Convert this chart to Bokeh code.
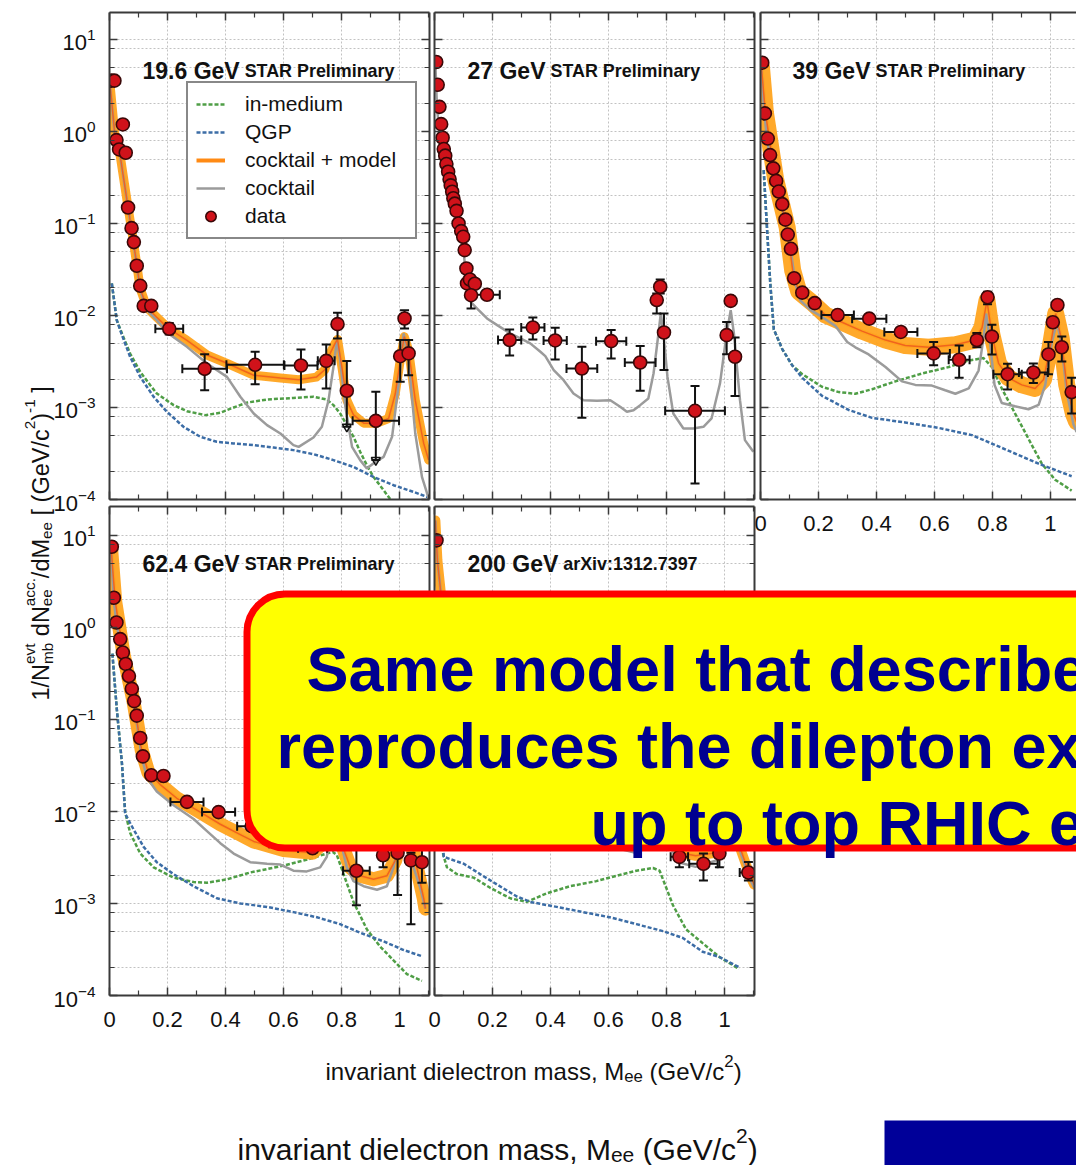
import math
from bokeh.plotting import figure
from bokeh.models import (Range1d, FixedTicker, LogAxis, LinearAxis, Grid, Legend, LegendItem,
                          BoxAnnotation, LogTickFormatter, CustomJSTickFormatter)
from bokeh.embed import file_html
from bokeh.resources import INLINE
from bokeh.core.properties import value

W, H = 1076, 1165

# ---------------- ticks ----------------
X_MAJOR = [0, 0.2, 0.4, 0.6, 0.8, 1.0]
X_MINOR = [0.1, 0.3, 0.5, 0.7, 0.9, 1.1]
Y_MAJOR = [1e-4, 1e-3, 1e-2, 1e-1, 1, 10]
Y_MINOR = [2e-4, 5e-4, 8e-4, 2e-3, 5e-3, 8e-3, 2e-2, 5e-2, 8e-2, 0.2, 0.5, 0.8, 2, 5, 8]

LEGEND_LABELS = ["in-medium", "QGP", "cocktail + model", "cocktail", "data"]
TITLES_MAIN = ["19.6 GeV", "27 GeV", "39 GeV", "62.4 GeV", "200 GeV"]
TITLES_SUB = ["STAR Preliminary", "STAR Preliminary", "STAR Preliminary", "STAR Preliminary", "arXiv:1312.7397"]

# ---------------- 19.6 GeV ----------------
P1_M = [0.006, 0.017, 0.024, 0.033, 0.046, 0.056, 0.064, 0.076, 0.084, 0.094, 0.106, 0.118, 0.144,
        0.206, 0.328, 0.502, 0.660, 0.747, 0.786, 0.818, 0.918, 1.002, 1.017, 1.031]
P1_V = [3.56, 3.56, 0.805, 0.637, 1.19, 0.586, 0.149, 0.0889, 0.0627, 0.0347, 0.0210, 0.0127, 0.0127,
        0.00716, 0.00263, 0.00291, 0.00286, 0.00321, 0.00805, 0.00152, 0.000716, 0.00361, 0.00927, 0.00387]
P1_DX = [0, 0, 0, 0, 0, 0, 0, 0, 0, 0, 0, 0, 0,
         0.048, 0.077, 0.099, 0.057, 0.029, 0, 0, 0.08, 0, 0, 0]
P1_LO = [None] * 13 + [0.0062, 0.00154, 0.00179, 0.00157, 0.00161, 0.00562, 0.000617, 0.000268, 0.00190, 0.00723, 0.00224]
P1_HI = [None] * 13 + [0.0083, 0.00380, 0.00403, 0.00427, 0.00484, 0.0107, 0.00319, 0.00148, 0.00540, 0.0114, 0.00540]
P1_LIMIT = [False] * 19 + [True, True, False, False, False]

P1_COCKTAIL_M = [0.002, 0.020, 0.037, 0.060, 0.083, 0.106, 0.129, 0.163, 0.203, 0.267, 0.336, 0.405, 0.451,
                 0.497, 0.543, 0.589, 0.634, 0.652, 0.703, 0.732, 0.755, 0.772, 0.784, 0.795, 0.813, 0.836,
                 0.864, 0.887, 0.916, 0.945, 0.974, 0.997, 1.014, 1.031, 1.054, 1.077, 1.100]
P1_COCKTAIL_V = [3.06, 0.805, 0.531, 0.179, 0.0607, 0.0188, 0.0114, 0.00889, 0.00637, 0.00456, 0.00301,
                 0.00215, 0.00131, 0.000861, 0.000643, 0.000521, 0.000390, 0.000373, 0.000472, 0.000617,
                 0.00120, 0.00277, 0.00540, 0.00327, 0.00102, 0.000373, 0.000268, 0.000217, 0.000256,
                 0.000291, 0.000480, 0.00182, 0.00637, 0.00327, 0.000521, 0.000176, 0.000103]
P1_MODEL_M = [0.002, 0.020, 0.037, 0.060, 0.083, 0.106, 0.129, 0.163, 0.203, 0.267, 0.336, 0.405, 0.497,
              0.589, 0.652, 0.713, 0.742, 0.761, 0.778, 0.786, 0.801, 0.818, 0.841, 0.876, 0.922, 0.962,
              0.985, 1.002, 1.016, 1.031, 1.054, 1.083, 1.100]
P1_MODEL_V = [3.2, 0.82, 0.54, 0.18, 0.062, 0.0195, 0.0122, 0.00955, 0.00724, 0.00537, 0.00372, 0.00302,
              0.00224, 0.00209, 0.00200, 0.00214, 0.00257, 0.00389, 0.00501, 0.00550, 0.00275, 0.00120,
              0.000832, 0.000676, 0.000676, 0.000759, 0.00141, 0.00324, 0.00589, 0.00417, 0.00120,
              0.000407, 0.000269]
P1_INMED_M = [0.008, 0.025, 0.043, 0.071, 0.106, 0.140, 0.163, 0.221, 0.267, 0.330, 0.382, 0.428, 0.474,
              0.543, 0.634, 0.703, 0.749, 0.772, 0.795, 0.818, 0.841, 0.864, 0.887, 0.910, 0.945, 0.979]
P1_INMED_V = [0.0223, 0.00889, 0.00637, 0.00386, 0.00244, 0.00175, 0.00142, 0.00106, 0.000912, 0.000826,
              0.000875, 0.00100, 0.00113, 0.00122, 0.00127, 0.00131, 0.00122, 0.00106, 0.000861, 0.000643,
              0.000480, 0.000330, 0.000236, 0.000176, 0.000126, 0.0000906]
P1_QGP_M = [0.008, 0.025, 0.043, 0.071, 0.106, 0.152, 0.198, 0.255, 0.313, 0.370, 0.428, 0.497, 0.566,
            0.634, 0.703, 0.772, 0.841, 0.910, 0.979, 1.048, 1.100]
P1_QGP_V = [0.0223, 0.00889, 0.00611, 0.00356, 0.00215, 0.00131, 0.000897, 0.000617, 0.000480, 0.000424,
            0.000406, 0.000390, 0.000367, 0.000344, 0.000311, 0.000268, 0.000226, 0.000176, 0.000143,
            0.000121, 0.000105]

# ---------------- 27 GeV ----------------
P2_M = [0.006, 0.011, 0.017, 0.023, 0.028, 0.032, 0.037, 0.041, 0.047, 0.052, 0.056, 0.061, 0.065, 0.070,
        0.076, 0.083, 0.092, 0.099, 0.104, 0.110, 0.112, 0.122, 0.139, 0.126, 0.181, 0.259, 0.339, 0.416,
        0.508, 0.609, 0.709, 0.766, 0.778, 0.791, 0.898, 1.007, 1.021, 1.036]
P2_V = [5.68, 3.21, 1.85, 1.20, 0.853, 0.643, 0.545, 0.442, 0.365, 0.303, 0.259, 0.221, 0.188, 0.164,
        0.137, 0.100, 0.0826, 0.0716, 0.0513, 0.0324, 0.0223, 0.0246, 0.0221, 0.0166, 0.0168, 0.00540,
        0.00741, 0.00535, 0.00265, 0.00526, 0.00308, 0.0147, 0.0205, 0.00653, 0.000920, 0.00611, 0.0144, 0.00356]
P2_DX = [0] * 24 + [0.044, 0.04, 0.04, 0.04, 0.053, 0.052, 0.053, 0, 0, 0, 0.103, 0, 0, 0]
P2_LO = [None] * 23 + [0.0119, None, 0.00367, 0.00548, 0.00333, 0.000773, 0.00341, 0.00152, 0.0105,
                       0.0173, 0.00255, 0.000149, 0.00380, 0.0129, 0.00133]
P2_HI = [None] * 23 + [0.0252, None, 0.00705, 0.00951, 0.00735, 0.00456, 0.00693, 0.00465, 0.0173,
                       0.0246, 0.0105, 0.00171, 0.00847, 0.0162, 0.00577]
P2_COCKTAIL_M = [0.003, 0.009, 0.021, 0.055, 0.084, 0.101, 0.112, 0.124, 0.147, 0.181, 0.216, 0.261, 0.296,
                 0.330, 0.365, 0.382, 0.411, 0.445, 0.479, 0.514, 0.560, 0.606, 0.640, 0.663, 0.686, 0.709,
                 0.737, 0.755, 0.772, 0.780, 0.789, 0.803, 0.823, 0.858, 0.892, 0.927, 0.955, 0.984, 1.007,
                 1.021, 1.032, 1.053, 1.070, 1.099]
P2_COCKTAIL_V = [5.48, 1.71, 0.805, 0.251, 0.0920, 0.0472, 0.0205, 0.0141, 0.0119, 0.00927, 0.00785,
                 0.00637, 0.00562, 0.00497, 0.00403, 0.00361, 0.00255, 0.00198, 0.00142, 0.00120, 0.00118,
                 0.00120, 0.00102, 0.000897, 0.000935, 0.00106, 0.00125, 0.00234, 0.00637, 0.0105, 0.00637,
                 0.00215, 0.000861, 0.000592, 0.000592, 0.000617, 0.000759, 0.00182, 0.00637, 0.0114,
                 0.00637, 0.00120, 0.000442, 0.000330]

# ---------------- 39 GeV ----------------
P3_M = [0.006, 0.015, 0.025, 0.033, 0.044, 0.054, 0.063, 0.075, 0.086, 0.094, 0.105, 0.116, 0.144, 0.187,
        0.266, 0.375, 0.484, 0.597, 0.685, 0.746, 0.783, 0.798, 0.852, 0.941, 0.993, 1.008, 1.024, 1.039, 1.073]
P3_V = [5.58, 1.57, 0.836, 0.553, 0.397, 0.290, 0.222, 0.162, 0.110, 0.0757, 0.0530, 0.0254, 0.0177,
        0.0136, 0.0101, 0.00923, 0.00662, 0.00387, 0.00330, 0.00540, 0.0158, 0.00589, 0.00230, 0.00240,
        0.00377, 0.00843, 0.0130, 0.00451, 0.00147]
P3_DX = [0] * 14 + [0.056, 0.059, 0.057, 0.056, 0.036, 0, 0, 0, 0.049, 0.05, 0, 0, 0, 0, 0]
P3_LO = [None] * 17 + [0.00288, 0.00210, 0.00451, 0.0132, 0.00377, 0.00157, 0.00184, 0.00230, None, None, 0.00315, 0.000859]
P3_HI = [None] * 17 + [0.00515, 0.00471, 0.00644, 0.0181, 0.00793, 0.00299, 0.00301, 0.00515, None, None, 0.00589, 0.00210]
P3_COCKTAIL_M = [0.003, 0.011, 0.023, 0.052, 0.086, 0.107, 0.121, 0.138, 0.172, 0.212, 0.258, 0.299, 0.327,
                 0.373, 0.431, 0.488, 0.534, 0.591, 0.637, 0.672, 0.718, 0.752, 0.769, 0.778, 0.790, 0.807,
                 0.832, 0.878, 0.924, 0.959, 0.982, 1.005, 1.022, 1.037, 1.056, 1.079, 1.090]
P3_COCKTAIL_V = [4.67, 1.91, 0.778, 0.290, 0.108, 0.0443, 0.0216, 0.0145, 0.0115, 0.00964, 0.00771,
                 0.00515, 0.00451, 0.00377, 0.00275, 0.00192, 0.00176, 0.00173, 0.00154, 0.00141, 0.00161,
                 0.00252, 0.00564, 0.0105, 0.00564, 0.00176, 0.00112, 0.00103, 0.000957, 0.00107, 0.00176,
                 0.00515, 0.00843, 0.00515, 0.00147, 0.000656, 0.000540]
P3_MODEL_M = [0.003, 0.017, 0.052, 0.092, 0.111, 0.132, 0.178, 0.224, 0.281, 0.350, 0.431, 0.499, 0.580,
              0.672, 0.741, 0.764, 0.781, 0.798, 0.821, 0.855, 0.901, 0.947, 0.976, 0.999, 1.018, 1.037,
              1.056, 1.079, 1.090]
P3_MODEL_V = [5.11, 1.59, 0.303, 0.0906, 0.0309, 0.0181, 0.0138, 0.0101, 0.00843, 0.00675, 0.00540,
              0.00471, 0.00451, 0.00480, 0.00540, 0.00738, 0.0145, 0.00617, 0.00301, 0.00210, 0.00176,
              0.00161, 0.00201, 0.00451, 0.0105, 0.00564, 0.00176, 0.000859, 0.000700]
P3_INMED_M = [0.011, 0.023, 0.034, 0.046, 0.075, 0.109, 0.144, 0.212, 0.270, 0.327, 0.385, 0.465, 0.557,
              0.649, 0.718, 0.769, 0.798, 0.832, 0.878, 0.924, 0.970, 1.016, 1.073]
P3_INMED_V = [0.380, 0.0828, 0.0216, 0.00705, 0.00431, 0.00288, 0.00230, 0.00168, 0.00147, 0.00141,
              0.00158, 0.00192, 0.00234, 0.00275, 0.00324, 0.00344, 0.00275, 0.00161, 0.000859, 0.000458,
              0.000245, 0.000164, 0.000125]
P3_QGP_M = [0.011, 0.023, 0.034, 0.046, 0.075, 0.109, 0.144, 0.212, 0.304, 0.385, 0.499, 0.614, 0.729,
            0.844, 0.959, 1.073]
P3_QGP_V = [0.380, 0.0828, 0.0216, 0.00705, 0.00431, 0.00288, 0.00210, 0.00134, 0.000940, 0.000771,
            0.000687, 0.000600, 0.000501, 0.000351, 0.000245, 0.000179]

# ---------------- 62.4 GeV ----------------
P4_M = [0.008, 0.015, 0.024, 0.037, 0.046, 0.056, 0.067, 0.077, 0.085, 0.094, 0.106, 0.115, 0.144, 0.186,
        0.267, 0.376, 0.490, 0.600, 0.700, 0.780, 0.851, 0.943, 0.993, 1.018, 1.039, 1.077]
P4_V = [7.52, 2.10, 1.13, 0.746, 0.533, 0.401, 0.296, 0.215, 0.158, 0.110, 0.0628, 0.0397, 0.0247, 0.0243,
        0.0127, 0.00984, 0.00692, 0.00447, 0.00398, 0.0112, 0.00227, 0.00334, 0.00355, 0.0100, 0.00294, 0.00281]
P4_DX = [0] * 14 + [0.057, 0.057, 0.05, 0.05, 0.05, 0, 0.046, 0, 0, 0, 0, 0]
P4_LO = [None] * 20 + [0.000957, 0.00247, 0.00124, None, 0.000596, 0.00168]
P4_HI = [None] * 20 + [0.00415, 0.00447, 0.00501, None, 0.00355, 0.00398]
P4_COCKTAIL_M = [0.006, 0.014, 0.025, 0.048, 0.071, 0.094, 0.111, 0.129, 0.163, 0.221, 0.290, 0.336, 0.382,
                 0.428, 0.485, 0.543, 0.589, 0.634, 0.680, 0.726, 0.749, 0.765, 0.780, 0.795, 0.818, 0.841,
                 0.876, 0.922, 0.956, 0.979, 1.000, 1.018, 1.035, 1.048, 1.071, 1.089]
P4_COCKTAIL_V = [6.32, 2.07, 1.04, 0.476, 0.219, 0.0925, 0.0391, 0.0233, 0.0165, 0.0117, 0.00828, 0.00612,
                 0.00452, 0.00349, 0.00281, 0.00270, 0.00265, 0.00227, 0.00223, 0.00247, 0.00321, 0.00631,
                 0.0112, 0.00501, 0.00247, 0.00175, 0.00154, 0.00141, 0.00154, 0.00247, 0.00501, 0.0100,
                 0.00501, 0.00247, 0.00148, 0.000879]
P4_MODEL_M = [0.006, 0.020, 0.048, 0.083, 0.111, 0.134, 0.175, 0.232, 0.313, 0.382, 0.451, 0.497, 0.600,
              0.700, 0.765, 0.780, 0.800, 0.830, 0.864, 0.910, 0.956, 0.985, 1.018, 1.054, 1.083, 1.089]
P4_MODEL_V = [6.90, 1.89, 0.519, 0.155, 0.0465, 0.0265, 0.0196, 0.0139, 0.00984, 0.00726, 0.00561,
              0.00472, 0.00380, 0.00355, 0.00562, 0.0112, 0.00447, 0.00247, 0.00200, 0.00183, 0.00200,
              0.00294, 0.0100, 0.00294, 0.00114, 0.000879]
P4_INMED_M = [0.010, 0.025, 0.043, 0.054, 0.071, 0.106, 0.152, 0.221, 0.290, 0.336, 0.405, 0.485, 0.600,
              0.692, 0.749, 0.770, 0.784, 0.807, 0.841, 0.887, 0.933, 0.979, 1.025, 1.077]
P4_INMED_V = [0.519, 0.131, 0.0329, 0.00984, 0.00586, 0.00349, 0.00247, 0.00191, 0.00171, 0.00168,
              0.00183, 0.00217, 0.00258, 0.00307, 0.00349, 0.00363, 0.00334, 0.00208, 0.00104, 0.000524,
              0.000340, 0.000241, 0.000171, 0.000144]
P4_QGP_M = [0.010, 0.025, 0.043, 0.054, 0.083, 0.117, 0.163, 0.221, 0.290, 0.370, 0.451, 0.543, 0.634,
            0.715, 0.795, 0.864, 0.945, 1.014, 1.077]
P4_QGP_V = [0.519, 0.131, 0.0329, 0.00942, 0.00638, 0.00415, 0.00281, 0.00208, 0.00154, 0.00114, 0.00100,
            0.000918, 0.000805, 0.000708, 0.000596, 0.000481, 0.000387, 0.000312, 0.000267]

# ---------------- 200 GeV ----------------
P5_M = [0.007, 0.844, 0.927, 0.982, 1.082]
P5_V = [8.83, 0.00321, 0.00270, 0.00349, 0.00217]
P5_DX = [0, 0.03, 0.049, 0, 0.03]
P5_LO = [None, 0.00247, 0.00178, 0.00247, 0.00178]
P5_HI = [None, 0.00420, 0.00349, 0.00501, 0.00282]
P5_COCKTAIL_M = [0.003, 0.010, 0.021, 0.05, 0.10, 0.15, 0.30, 0.50, 0.70, 0.76, 0.78, 0.80, 0.84, 0.90,
                 0.98, 1.005, 1.02, 1.035, 1.056, 1.085, 1.102]
P5_COCKTAIL_V = [14.5, 5.35, 2.51, 0.40, 0.05, 0.02, 0.009, 0.005, 0.0035, 0.005, 0.012, 0.005, 0.0028,
                 0.0025, 0.003, 0.006, 0.011, 0.006, 0.00349, 0.00191, 0.00148]
P5_MODEL_V = [14.5, 5.35, 2.51, 0.42, 0.055, 0.024, 0.011, 0.0065, 0.0048, 0.006, 0.013, 0.0065, 0.0036,
              0.0033, 0.0036, 0.0065, 0.0115, 0.0065, 0.0038, 0.0021, 0.0016]
P5_INMED_M = [0.010, 0.020, 0.030, 0.043, 0.078, 0.135, 0.192, 0.261, 0.318, 0.387, 0.467, 0.558, 0.627,
              0.696, 0.753, 0.776, 0.822, 0.867, 0.924, 0.982, 1.050]
P5_INMED_V = [0.5, 0.01, 0.00339, 0.00247, 0.00208, 0.00191, 0.00148, 0.00114, 0.00104, 0.00129, 0.00154,
              0.00175, 0.00200, 0.00227, 0.00243, 0.00227, 0.000957, 0.000524, 0.000371, 0.000262, 0.000194]
P5_QGP_M = [0.010, 0.020, 0.032, 0.101, 0.158, 0.215, 0.284, 0.330, 0.421, 0.513, 0.604, 0.696, 0.787,
            0.856, 0.924, 0.982, 1.050]
P5_QGP_V = [0.5, 0.01, 0.00321, 0.00270, 0.00208, 0.00161, 0.00119, 0.00104, 0.000918, 0.000805, 0.000708,
            0.000596, 0.000501, 0.000422, 0.000299, 0.000262, 0.000203]

# ---------------- styles ----------------
C_INMED = "#4f9e46"
C_QGP = "#3c6da6"
C_BAND = "#ffa41f"
C_MODEL = "#f0641e"
C_MODEL_KEY = "#ff8a14"
C_COCKTAIL = "#9b9b9b"
C_DATA = "#d0121a"
C_DATA_EDGE = "#3a0808"
C_ERR = "#111111"
C_AXIS = "#3a3a3a"
C_GRID = "#c2c2c2"
C_TEXT = "#111111"
C_NAVY = "#000090"
FONT = "Liberation Sans"
STACK = {"position": "absolute", "left": "0px", "top": "0px"}

AR = {' ': 278, '(': 333, ')': 333, ',': 278, '-': 333, '.': 278, '/': 278, ':': 278, '[': 278, ']': 278,
      '+': 584, 'A': 667, 'G': 778, 'M': 833, 'N': 722, 'V': 667, 'X': 667,
      'a': 556, 'b': 556, 'c': 500, 'd': 556, 'e': 556, 'g': 556, 'h': 556, 'i': 222, 'k': 500, 'l': 222,
      'm': 833, 'n': 556, 'o': 556, 'p': 556, 'r': 333, 's': 500, 't': 278, 'u': 556, 'v': 500, 'x': 500, 'y': 500}
ARB = {' ': 278, '.': 278, ':': 333, 'G': 778, 'V': 667, 'e': 556, 'S': 667, 'T': 611, 'A': 722, 'R': 722,
       'P': 667, 'r': 389, 'l': 278, 'i': 278, 'm': 889, 'n': 611, 'a': 556, 'y': 556, 'X': 667, 'v': 556}


def text_w(s, bold=False):
    tbl = ARB if bold else AR
    return sum(tbl.get(c, 556) for c in s) / 1000.0


def style_axis(ax, show, standoff):
    ax.axis_line_color = C_AXIS
    ax.axis_line_width = 2
    ax.major_tick_in = 8
    ax.major_tick_out = 0
    ax.minor_tick_in = 5
    ax.minor_tick_out = 0
    ax.major_tick_line_color = C_AXIS
    ax.major_tick_line_width = 1.5
    ax.minor_tick_line_color = C_AXIS
    ax.minor_tick_line_width = 1.2
    if show:
        ax.major_label_text_font = FONT
        ax.major_label_text_font_size = "22px"
        ax.major_label_text_color = C_TEXT
        ax.major_label_standoff = standoff
    else:
        ax.major_label_text_font_size = "2px"
        ax.major_label_text_color = None
        ax.major_label_standoff = 0


def make_panel(fl, ft, fw, fh, xmax, ymax, left_labels=False, bottom_labels=False, right_axis=True):
    p = figure(width=W, height=H, output_backend="svg", toolbar_location=None,
               x_range=Range1d(0, xmax), y_range=Range1d(1e-4, ymax), y_axis_type="log",
               x_axis_location=None, y_axis_location=None,
               min_border_left=fl, min_border_top=ft, min_border_right=W - fl - fw,
               min_border_bottom=H - ft - fh,
               background_fill_color="white", border_fill_color=None, outline_line_color=None,
               styles=STACK)
    p.title.visible = False
    p.center = []
    xt = FixedTicker(ticks=X_MAJOR, minor_ticks=X_MINOR)
    yt = FixedTicker(ticks=Y_MAJOR, minor_ticks=Y_MINOR)
    p.add_layout(Grid(dimension=0, ticker=xt, grid_line_color=C_GRID, grid_line_dash="2 2"), "center")
    p.add_layout(Grid(dimension=1, ticker=yt, grid_line_color=C_GRID, grid_line_dash="2 2",
                      minor_grid_line_color=C_GRID, minor_grid_line_dash="2 2"), "center")
    sides = ["left", "right"] if right_axis else ["left"]
    for side in sides:
        ax = LogAxis(ticker=yt, formatter=LogTickFormatter())
        style_axis(ax, left_labels and side == "left", 14)
        p.add_layout(ax, side)
    for side in ["below", "above"]:
        ax = LinearAxis(ticker=xt, formatter=CustomJSTickFormatter(
            code="return tick.toFixed(1).replace(/\\.0$/, '');"))
        style_axis(ax, bottom_labels and side == "below", 16)
        p.add_layout(ax, side)
    return p


def draw_curves(p, inmed=None, qgp=None, model=None, cocktail=None, band_w=9):
    r = {}
    if inmed:
        r["inmed"] = p.line(inmed[0], inmed[1], line_color=C_INMED, line_width=2.5, line_dash="4 2")
    if qgp:
        r["qgp"] = p.line(qgp[0], qgp[1], line_color=C_QGP, line_width=2.5, line_dash="4 2")
    if model:
        # narrower copy (hidden under the band) that serves as the legend key
        r["model"] = p.line(model[0], model[1], line_color=C_MODEL_KEY, line_width=4)
        p.line(model[0], model[1], line_color=C_BAND, line_width=band_w, line_join="round",
               line_cap="round", line_alpha=0.95)
    if cocktail:
        r["cocktail"] = p.line(cocktail[0], cocktail[1], line_color=C_COCKTAIL, line_width=2.5)
    if model:
        p.line(model[0], model[1], line_color=C_MODEL, line_width=1.5)
    return r


def draw_points(p, M, V, DX, LO, HI, LIMIT=None):
    iv = [i for i in range(len(M)) if LO[i] is not None]
    if iv:
        p.segment(x0=[M[i] for i in iv], y0=[LO[i] for i in iv], x1=[M[i] for i in iv],
                  y1=[HI[i] for i in iv], line_color=C_ERR, line_width=2)
        p.scatter(x=[M[i] for i in iv] * 2, y=[LO[i] for i in iv] + [HI[i] for i in iv],
                  marker="dash", size=9, line_color=C_ERR, line_width=2)
    ih = [i for i in range(len(M)) if DX[i] > 0]
    if ih:
        p.segment(x0=[M[i] - DX[i] for i in ih], y0=[V[i] for i in ih], x1=[M[i] + DX[i] for i in ih],
                  y1=[V[i] for i in ih], line_color=C_ERR, line_width=2)
        p.scatter(x=[M[i] - DX[i] for i in ih] + [M[i] + DX[i] for i in ih],
                  y=[V[i] for i in ih] * 2, marker="dash", angle=math.pi / 2, size=9,
                  line_color=C_ERR, line_width=2)
    if LIMIT:
        il = [i for i in range(len(M)) if LIMIT[i]]
        p.scatter(x=[M[i] for i in il], y=[LO[i] for i in il], marker="inverted_triangle", size=9,
                  fill_color=None, line_color=C_ERR, line_width=1.5)
    return p.scatter(M, V, marker="circle", size=13, fill_color=C_DATA, line_color=C_DATA_EDGE,
                     line_width=1.6)


# ---------------- panels ----------------
TOP_Y = 19.6
BOT_Y = 20.6
p1 = make_panel(109, 12, 320, 487, 1.103, TOP_Y, left_labels=True)
p2 = make_panel(434, 12, 320, 487, 1.103, TOP_Y)
p3 = make_panel(760, 12, 316, 487, 1.0897, TOP_Y, bottom_labels=True, right_axis=False)
p4 = make_panel(109, 506, 320, 489, 1.103, BOT_Y, left_labels=True, bottom_labels=True)
p5 = make_panel(434, 506, 320, 489, 1.103, BOT_Y, bottom_labels=True)

r1 = draw_curves(p1, (P1_INMED_M, P1_INMED_V), (P1_QGP_M, P1_QGP_V), (P1_MODEL_M, P1_MODEL_V),
                 (P1_COCKTAIL_M, P1_COCKTAIL_V), band_w=9)
d1 = draw_points(p1, P1_M, P1_V, P1_DX, P1_LO, P1_HI, P1_LIMIT)

draw_curves(p2, cocktail=(P2_COCKTAIL_M, P2_COCKTAIL_V))
draw_points(p2, P2_M, P2_V, P2_DX, P2_LO, P2_HI)

draw_curves(p3, (P3_INMED_M, P3_INMED_V), (P3_QGP_M, P3_QGP_V), (P3_MODEL_M, P3_MODEL_V),
            (P3_COCKTAIL_M, P3_COCKTAIL_V), band_w=17)
draw_points(p3, P3_M, P3_V, P3_DX, P3_LO, P3_HI)

draw_curves(p4, (P4_INMED_M, P4_INMED_V), (P4_QGP_M, P4_QGP_V), (P4_MODEL_M, P4_MODEL_V),
            (P4_COCKTAIL_M, P4_COCKTAIL_V), band_w=14)
draw_points(p4, P4_M, P4_V, P4_DX, P4_LO, P4_HI)

draw_curves(p5, (P5_INMED_M, P5_INMED_V), (P5_QGP_M, P5_QGP_V), (P5_COCKTAIL_M, P5_MODEL_V),
            (P5_COCKTAIL_M, P5_COCKTAIL_V), band_w=10)
draw_points(p5, P5_M, P5_V, P5_DX, P5_LO, P5_HI)

# legend (panel 1)
leg_r = [r1["inmed"], r1["qgp"], r1["model"], r1["cocktail"], d1]
legend = Legend(items=[LegendItem(label=l, renderers=[r]) for l, r in zip(LEGEND_LABELS, leg_r)],
                location=(77, 260), margin=0, padding=8, spacing=2, glyph_width=29, glyph_height=26,
                label_height=26, label_width=162, label_standoff=20,
                label_text_font=FONT, label_text_font_size="21px", label_text_color=C_TEXT,
                border_line_color="#111111", border_line_width=2,
                background_fill_color="white", background_fill_alpha=1)
p1.add_layout(legend)

# ---------------- overlay (slide texts, callout) ----------------
ov = figure(width=W, height=H, output_backend="svg", toolbar_location=None,
            x_range=Range1d(0, W), y_range=Range1d(0, H), x_axis_location=None, y_axis_location=None,
            min_border=0, min_border_left=0, min_border_right=0, min_border_top=0, min_border_bottom=0,
            background_fill_color=None, border_fill_color=None, outline_line_color=None, styles=STACK)
ov.title.visible = False
ov.center = []


def rich(fig, x, y_top, pieces, size, angle=0.0, bold=False, color=C_TEXT):
    ux, uy = math.cos(angle), math.sin(angle)
    vx, vy = -math.sin(angle), math.cos(angle)
    pos = 0.0
    for group in pieces:
        if isinstance(group, tuple):
            group = [group]
        adv = 0.0
        for txt, sc, sh in group:
            fs = size * sc
            body = txt.lstrip(" ")
            off = text_w(" " * (len(txt) - len(body)), bold) * fs
            px = x + ux * (pos + off) + vx * sh * size
            py = (H - y_top) + uy * (pos + off) + vy * sh * size
            fig.text(x=[px], y=[py], text=[body], angle=angle, text_font=value(FONT),
                     text_font_size=f"{fs:.1f}px", text_font_style="bold" if bold else "normal",
                     text_color=color, text_align="left", text_baseline="alphabetic")
            adv = max(adv, text_w(txt, bold) * fs)
        pos += adv


# panel titles
TITLE_POS = [(142, 70), (467, 70), (792, 70), (142, 563), (467, 563)]
for (tx, ty), main, sub in zip(TITLE_POS, TITLES_MAIN, TITLES_SUB):
    rich(ov, tx, ty, [(main, 1.0, 0.0), (" " + sub, 0.78, 0.0)], 23, bold=True)

# y axis title (rotated)
rich(ov, 40, 700, [("1/N", 1, 0), [("evt", 0.65, 0.45), ("mb", 0.65, -0.28)], (" dN", 1, 0),
                   [("acc.", 0.65, 0.45), ("ee", 0.65, -0.28)], ("/dM", 1, 0), ("ee", 0.65, -0.28),
                   (" [ (GeV/c", 1, 0), ("2", 0.65, 0.45), (")", 1, 0), ("-1", 0.65, 0.45), (" ]", 1, 0)],
     23.5, angle=math.pi / 2)

# x axis titles
XLAB = [("invariant dielectron mass, M", 1, 0), ("ee", 0.7, -0.18), (" (GeV/c", 1, 0), ("2", 0.7, 0.45), (")", 1, 0)]
rich(ov, 325, 1071, XLAB, 24)
rich(ov, 237, 1149, XLAB, 30)

# blue block bottom right
ov.quad(left=[884], right=[W], bottom=[0], top=[H - 1120], fill_color="#000099", line_color=None)

# callout
box = BoxAnnotation(left=246.5, right=1140, bottom=H - 847.5, top=H - 593.5, fill_color="#ffff00",
                    fill_alpha=1, line_color="#ff0000", line_alpha=1, line_width=7, border_radius=38,
                    level="underlay")
ov.add_layout(box)
CALLOUT = [("Same model that describe", 306, 668), ("reproduces the dilepton ex", 276, 745),
           ("up to top RHIC e", 590, 822)]
for txt, cx, cy in CALLOUT:
    ov.text(x=[cx], y=[H - cy], text=[txt], text_font=value(FONT), text_font_size="63px",
            text_font_style="bold", text_color=C_NAVY, text_align="left", text_baseline="alphabetic")

# independent roots, stacked on the page (later ones drawn above)
layers = [p1, p2, p3, p4, p5, ov]
open("out.html", "w").write(file_html(layers, INLINE, title="dielectron mass spectra"))
